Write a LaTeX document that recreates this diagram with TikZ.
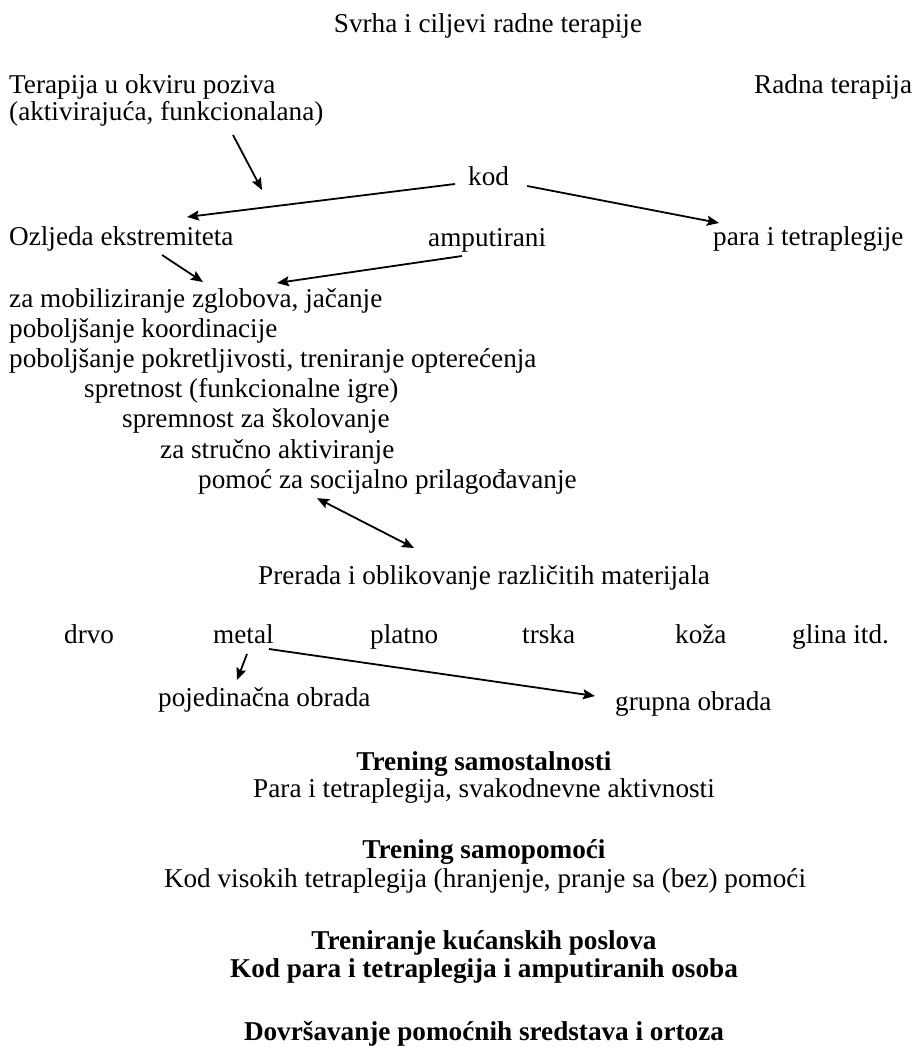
\documentclass[tikz,border=0pt]{standalone}
\usepackage{fontspec}
\setmainfont{Liberation Serif}
\usetikzlibrary{arrows.meta,calc}

\begin{document}
\begin{tikzpicture}[
  x=1pt, y=-1pt,
  font=\fontsize{27.2}{30}\selectfont,
  lbl/.style={inner sep=0, anchor=base west},
  clbl/.style={inner sep=0, anchor=base},
  hlbl/.style={clbl, font=\fontsize{27.2}{30}\selectfont\bfseries},
  flow/.style={-{Stealth[length=12pt, width=10pt, inset=2pt]}, line width=1.8pt},
]

\useasboundingbox (0,0) rectangle (913,1047);

% ---- title ----
\node[clbl] (title) at (488, 32) {Svrha i ciljevi radne terapije};

% ---- top row ----
\node[lbl] (poziv) at (9, 93) {Terapija u okviru poziva};
\node[lbl] (aktiv) at (9, 120) {(aktivirajuća, funkcionalana)};
\node[lbl] (radna) at (754, 93) {Radna terapija};
\node[lbl] (kod) at (468, 185) {kod};

\node[lbl] (ozljeda) at (9, 245) {Ozljeda ekstremiteta};
\node[lbl] (amput) at (428, 246) {amputirani};
\node[lbl] (para) at (713, 245) {para i tetraplegije};

% ---- goals list (indent grows from line 4) ----
\foreach \x/\t [count=\i] in {
    9/{za mobiliziranje zglobova, jačanje},
    9/{poboljšanje koordinacije},
    9/{poboljšanje pokretljivosti, treniranje opterećenja},
    84/{spretnost (funkcionalne igre)},
    122/{spremnost za školovanje},
    160/{za stručno aktiviranje},
    198/{pomoć za socijalno prilagođavanje}}{
  \node[lbl] (cilj\i) at (\x, 307+\i*30.2-30.2) {\t};
}

% ---- materials ----
\node[clbl] (prerada) at (484, 584) {Prerada i oblikovanje različitih materijala};

\node[lbl] (drvo) at (64, 643) {drvo};
\node[lbl] (metal) at (213, 643) {metal};
\node[lbl] (platno) at (370, 643) {platno};
\node[lbl] (trska) at (522, 643) {trska};
\node[lbl] (koza) at (675, 643) {koža};
\node[lbl] (glina) at (792, 643) {glina itd.};

\node[lbl] (pojed) at (158, 706) {pojedinačna obrada};
\node[lbl] (grupna) at (615, 710) {grupna obrada};

% ---- training blocks ----
\node[hlbl] (samost) at (484, 770) {Trening samostalnosti};
\node[clbl] (svakod) at (484, 797) {Para i tetraplegija, svakodnevne aktivnosti};

\node[hlbl] (samopom) at (484, 858) {Trening samopomoći};
\node[clbl] (visokih) at (485, 887) {Kod visokih tetraplegija (hranjenje, pranje sa (bez) pomoći};

\node[hlbl] (kucan) at (484, 949) {Treniranje kućanskih poslova};
\node[hlbl] (kodpara) at (484, 977) {Kod para i tetraplegija i amputiranih osoba};

\node[hlbl] (dovrs) at (484, 1040) {Dovršavanje pomoćnih sredstava i ortoza};

% ---- arrows ----
\coordinate (pozivkraj) at (262, 190);
\draw[flow] ($(aktiv.base west)+(224,15)$) -- (pozivkraj);
\draw[flow] ($(kod.base west)+(-13,-1)$) -- ($(ozljeda.base west)+(178,-28)$);
\draw[flow] ($(kod.base east)+(18,1)$) -- ($(para.base west)+(6,-22)$);
\draw[flow] ($(ozljeda.base west)+(153,10)$) -- ($(cilj1.base west)+(194,-25)$);
\draw[flow] ($(amput.base west)+(34,10)$) -- ($(cilj1.base west)+(268,-24)$);
\draw[flow, {Stealth[length=12pt, width=10pt, inset=2pt]}-{Stealth[length=12pt, width=10pt, inset=2pt]}]
  ($(cilj7.base west)+(119,10)$) -- ($(prerada.base)+(-70,-36)$);
\draw[flow] ($(metal.base west)+(34,11)$) -- ($(pojed.base west)+(79,-26)$);
\draw[flow] ($(metal.base west)+(56,6)$) -- ($(grupna.base west)+(-20,-14)$);

\end{tikzpicture}
\end{document}
